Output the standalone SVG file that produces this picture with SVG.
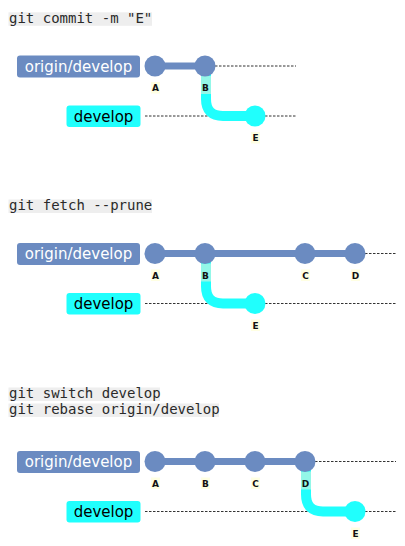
<svg xmlns="http://www.w3.org/2000/svg" width="405" height="546" viewBox="0 0 405 546">
<defs>
<style>
.cmdbg{fill:#eeeeee}
.cmd{font-family:"DejaVu Sans Mono","Liberation Mono",monospace;font-size:14px;fill:#2a2a2a}
.ob{fill:#6b8bc1}
.db{fill:#20fffd}
.bt{font-family:"DejaVu Sans","Noto Sans",sans-serif;font-size:15px;text-anchor:middle}
.c{fill:#6b8bc1}
.e{fill:#20fffd}
.lb{fill:#ffffe2}
.lt{font-family:"DejaVu Sans","Noto Sans",sans-serif;font-size:9px;font-weight:bold;text-anchor:middle;fill:#111}
.main{stroke:#6b8bc1;stroke-width:7;fill:none}
.br{stroke:#20fffd;stroke-width:10;fill:none}
.lite{fill:#93f7e8}
.dash{stroke:#333;stroke-width:1;stroke-dasharray:2.5,1.5;fill:none}
</style>
</defs>

<!-- Panel 1 -->
<g id="panel1">
  <g id="cmd1">
    <rect class="cmdbg" x="8.5" y="12.3" width="143.5" height="13.5"/>
    <text class="cmd" x="9" y="22.8">git commit -m "E"</text>
  </g>
  <g id="p1-connectors">
    <line class="dash" x1="215" y1="66" x2="296" y2="66"/>
    <line class="dash" x1="145" y1="116" x2="296" y2="116"/>
    <line class="main" x1="155" y1="66" x2="205" y2="66"/>
    <path class="br" d="M206 66 L206 99 Q206 116 223 116 L255 116"/>
    <rect class="lite" x="201" y="76" width="10" height="18"/>
  </g>
  <g id="p1-origin-develop">
    <rect class="ob" x="17" y="55.5" width="123" height="22" rx="3"/>
    <text class="bt" x="78.5" y="71.8" fill="#ffffff">origin/develop</text>
  </g>
  <g id="p1-develop">
    <rect class="db" x="66.5" y="105.5" width="74" height="21.5" rx="3"/>
    <text class="bt" x="103.5" y="121.8" fill="#000000">develop</text>
  </g>
  <g id="p1-A"><circle class="c" cx="155" cy="66" r="10.5"/><rect class="lb" x="151" y="82" width="9" height="11.5"/><text class="lt" x="155.5" y="91.3">A</text></g>
  <g id="p1-B"><circle class="c" cx="205" cy="66" r="10.5"/><text class="lt" x="205.5" y="91.3">B</text></g>
  <g id="p1-E"><circle class="e" cx="255" cy="116" r="10.5"/><rect class="lb" x="251" y="132" width="9" height="11.5"/><text class="lt" x="255.5" y="141.3">E</text></g>
</g>

<!-- Panel 2 -->
<g id="panel2">
  <g id="cmd2">
    <rect class="cmdbg" x="8.5" y="199.5" width="143.5" height="13.5"/>
    <text class="cmd" x="9" y="210">git fetch --prune</text>
  </g>
  <g id="p2-connectors">
    <line class="dash" x1="365" y1="253.5" x2="396" y2="253.5"/>
    <line class="dash" x1="145" y1="303.5" x2="396" y2="303.5"/>
    <line class="main" x1="155" y1="253.5" x2="355" y2="253.5"/>
    <path class="br" d="M206 253.5 L206 286.5 Q206 303.5 223 303.5 L255 303.5"/>
    <rect class="lite" x="201" y="263.5" width="10" height="18"/>
  </g>
  <g id="p2-origin-develop">
    <rect class="ob" x="17" y="243" width="123" height="22" rx="3"/>
    <text class="bt" x="78.5" y="259.3" fill="#ffffff">origin/develop</text>
  </g>
  <g id="p2-develop">
    <rect class="db" x="66.5" y="293" width="74" height="21.5" rx="3"/>
    <text class="bt" x="103.5" y="309.3" fill="#000000">develop</text>
  </g>
  <g id="p2-A"><circle class="c" cx="155" cy="253.5" r="10.5"/><rect class="lb" x="151" y="269.5" width="9" height="11.5"/><text class="lt" x="155.5" y="278.8">A</text></g>
  <g id="p2-B"><circle class="c" cx="205" cy="253.5" r="10.5"/><text class="lt" x="205.5" y="278.8">B</text></g>
  <g id="p2-C"><circle class="c" cx="305" cy="253.5" r="10.5"/><rect class="lb" x="301" y="269.5" width="9" height="11.5"/><text class="lt" x="305.5" y="278.8">C</text></g>
  <g id="p2-D"><circle class="c" cx="355" cy="253.5" r="10.5"/><rect class="lb" x="351" y="269.5" width="9" height="11.5"/><text class="lt" x="355.5" y="278.8">D</text></g>
  <g id="p2-E"><circle class="e" cx="255" cy="303.5" r="10.5"/><rect class="lb" x="251" y="319.5" width="9" height="11.5"/><text class="lt" x="255.5" y="328.8">E</text></g>
</g>

<!-- Panel 3 -->
<g id="panel3">
  <g id="cmd3">
    <rect class="cmdbg" x="8.5" y="387.5" width="151.5" height="13.5"/>
    <text class="cmd" x="9" y="398.2">git switch develop</text>
    <rect class="cmdbg" x="8.5" y="403.5" width="210.5" height="13.5"/>
    <text class="cmd" x="9" y="414.2">git rebase origin/develop</text>
  </g>
  <g id="p3-connectors">
    <line class="dash" x1="315" y1="461.5" x2="396" y2="461.5"/>
    <line class="dash" x1="145" y1="511.5" x2="396" y2="511.5"/>
    <line class="main" x1="155" y1="461.5" x2="305" y2="461.5"/>
    <path class="br" d="M306 461.5 L306 494.5 Q306 511.5 323 511.5 L355 511.5"/>
    <rect class="lite" x="301" y="471.5" width="10" height="18"/>
  </g>
  <g id="p3-origin-develop">
    <rect class="ob" x="17" y="451" width="123" height="22" rx="3"/>
    <text class="bt" x="78.5" y="467.3" fill="#ffffff">origin/develop</text>
  </g>
  <g id="p3-develop">
    <rect class="db" x="66.5" y="501" width="74" height="21.5" rx="3"/>
    <text class="bt" x="103.5" y="517.3" fill="#000000">develop</text>
  </g>
  <g id="p3-A"><circle class="c" cx="155" cy="461.5" r="10.5"/><rect class="lb" x="151" y="477.5" width="9" height="11.5"/><text class="lt" x="155.5" y="486.8">A</text></g>
  <g id="p3-B"><circle class="c" cx="205" cy="461.5" r="10.5"/><rect class="lb" x="201" y="477.5" width="9" height="11.5"/><text class="lt" x="205.5" y="486.8">B</text></g>
  <g id="p3-C"><circle class="c" cx="255" cy="461.5" r="10.5"/><rect class="lb" x="251" y="477.5" width="9" height="11.5"/><text class="lt" x="255.5" y="486.8">C</text></g>
  <g id="p3-D"><circle class="c" cx="305" cy="461.5" r="10.5"/><text class="lt" x="305.5" y="486.8">D</text></g>
  <g id="p3-E"><circle class="e" cx="355" cy="511.5" r="10.5"/><rect class="lb" x="351" y="527.5" width="9" height="11.5"/><text class="lt" x="355.5" y="536.8">E</text></g>
</g>
</svg>
